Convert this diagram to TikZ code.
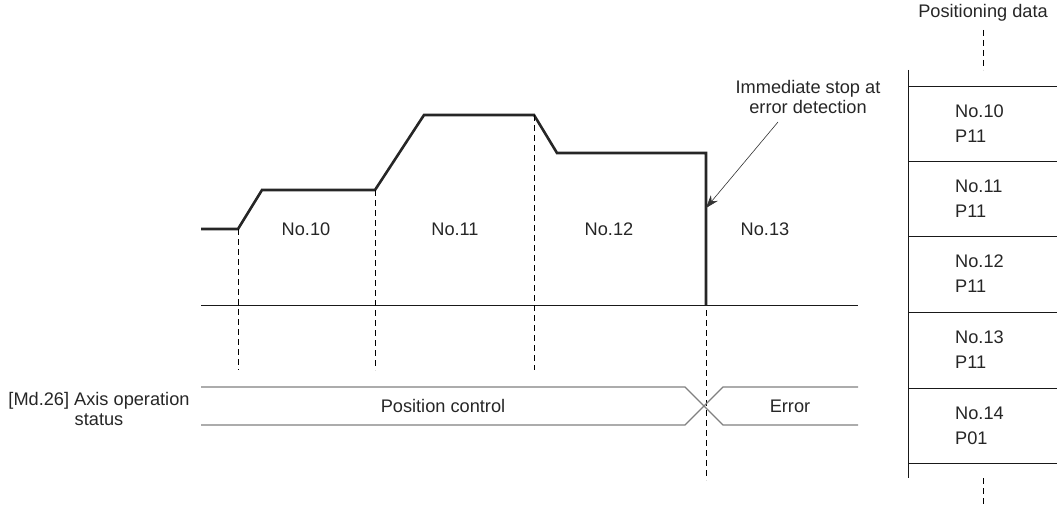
\documentclass[tikz,border=0pt]{standalone}
\usepackage{fontspec}
\setmainfont{Liberation Sans}
\usetikzlibrary{arrows.meta,positioning}
\tikzset{
  txt/.style={font=\fontsize{18.2}{20}\selectfont, inner sep=0pt, text=black!85},
  speedline/.style={line width=2.6pt, draw=black!85, line join=miter},
  axisline/.style={line width=0.9pt, draw=black!90},
  guideline/.style={dash pattern=on 6pt off 4pt, line width=0.9pt},
  bandline/.style={draw=black!50, line width=1.3pt},
  notearrow/.style={-{Stealth[length=13pt,width=9pt]}, line width=0.6pt, draw=black!80},
  tableline/.style={line width=0.9pt, draw=black!90},
  datacell/.style={txt, align=left, font=\fontsize{18.2}{25}\selectfont},
}
\begin{document}
\begin{tikzpicture}[x=1pt,y=-1pt]
  \useasboundingbox (0,0) rectangle (1057,508);

  % speed profile
  \coordinate (s0) at (201,229);
  \coordinate (s1) at (238,229);
  \coordinate (s2) at (262,190);
  \coordinate (s3) at (375,190);
  \coordinate (s4) at (424,115);
  \coordinate (s5) at (534,115);
  \coordinate (s6) at (557,153);
  \coordinate (s7) at (706,153);
  \coordinate (s8) at (706,305);
  \coordinate (ax0) at (201,305);
  \coordinate (ax1) at (858,305);
  \draw[axisline] (ax0) -- (ax1);
  \draw[speedline] (s0) -- (s1) -- (s2) -- (s3) -- (s4) -- (s5) -- (s6) -- (s7) -- (s8);

  % guide lines
  \coordinate (g1) at (238,370);
  \coordinate (g3) at (375,370);
  \coordinate (g5) at (534,370);
  \coordinate (g8) at (706,480);
  \draw[guideline] (s1) -- (g1);
  \draw[guideline] (s3) -- (g3);
  \draw[guideline] (s5) -- (g5);
  \draw[guideline] (706,310) -- (g8);

  % segment labels
  \node[txt] (seg10) at (306,229) {No.10};
  \node[txt] (seg11) at (455,229) {No.11};
  \node[txt] (seg12) at (609,229) {No.12};
  \node[txt] (seg13) at (765,229) {No.13};

  % stop annotation
  \node[txt, align=center] (note) at (808,97) {Immediate stop at\\error detection};
  \coordinate (notetail) at (778,122);
  \coordinate (stoppt) at (706,208);
  \draw[notearrow] (notetail) -- (stoppt);

  % axis operation status
  \node[txt, align=center] (statlabel) at (99,409) {[Md.26] Axis operation\\status};
  \draw[bandline] (201,387) -- (685,387) -- (723,425) -- (858,425);
  \draw[bandline] (201,425) -- (685,425) -- (723,387) -- (858,387);
  \node[txt] (posctrl) at (443,406) {Position control};
  \node[txt] (err) at (790,406) {Error};

  % positioning data table
  \node[txt] (datatitle) at (983,13) {Positioning data};
  \coordinate (dtop) at (983,30);
  \coordinate (dtab) at (983,70);
  \coordinate (dbot) at (983,478);
  \coordinate (dend) at (983,508);
  \draw[guideline] (dtop) -- (dtab);
  \draw[guideline] (dbot) -- (dend);
  \draw[tableline] (908,70) -- (908,478);
  \foreach \y in {86,161,236,312,388,463}
    \draw[tableline] (908,\y) -- (1057,\y);
  \foreach \n/\p/\y in {10/P11/124, 11/P11/199, 12/P11/274, 13/P11/350, 14/P01/426}
    \node[datacell, anchor=west] (cell\n) at (955,\y) {No.\n\\\p};
\end{tikzpicture}
\end{document}
